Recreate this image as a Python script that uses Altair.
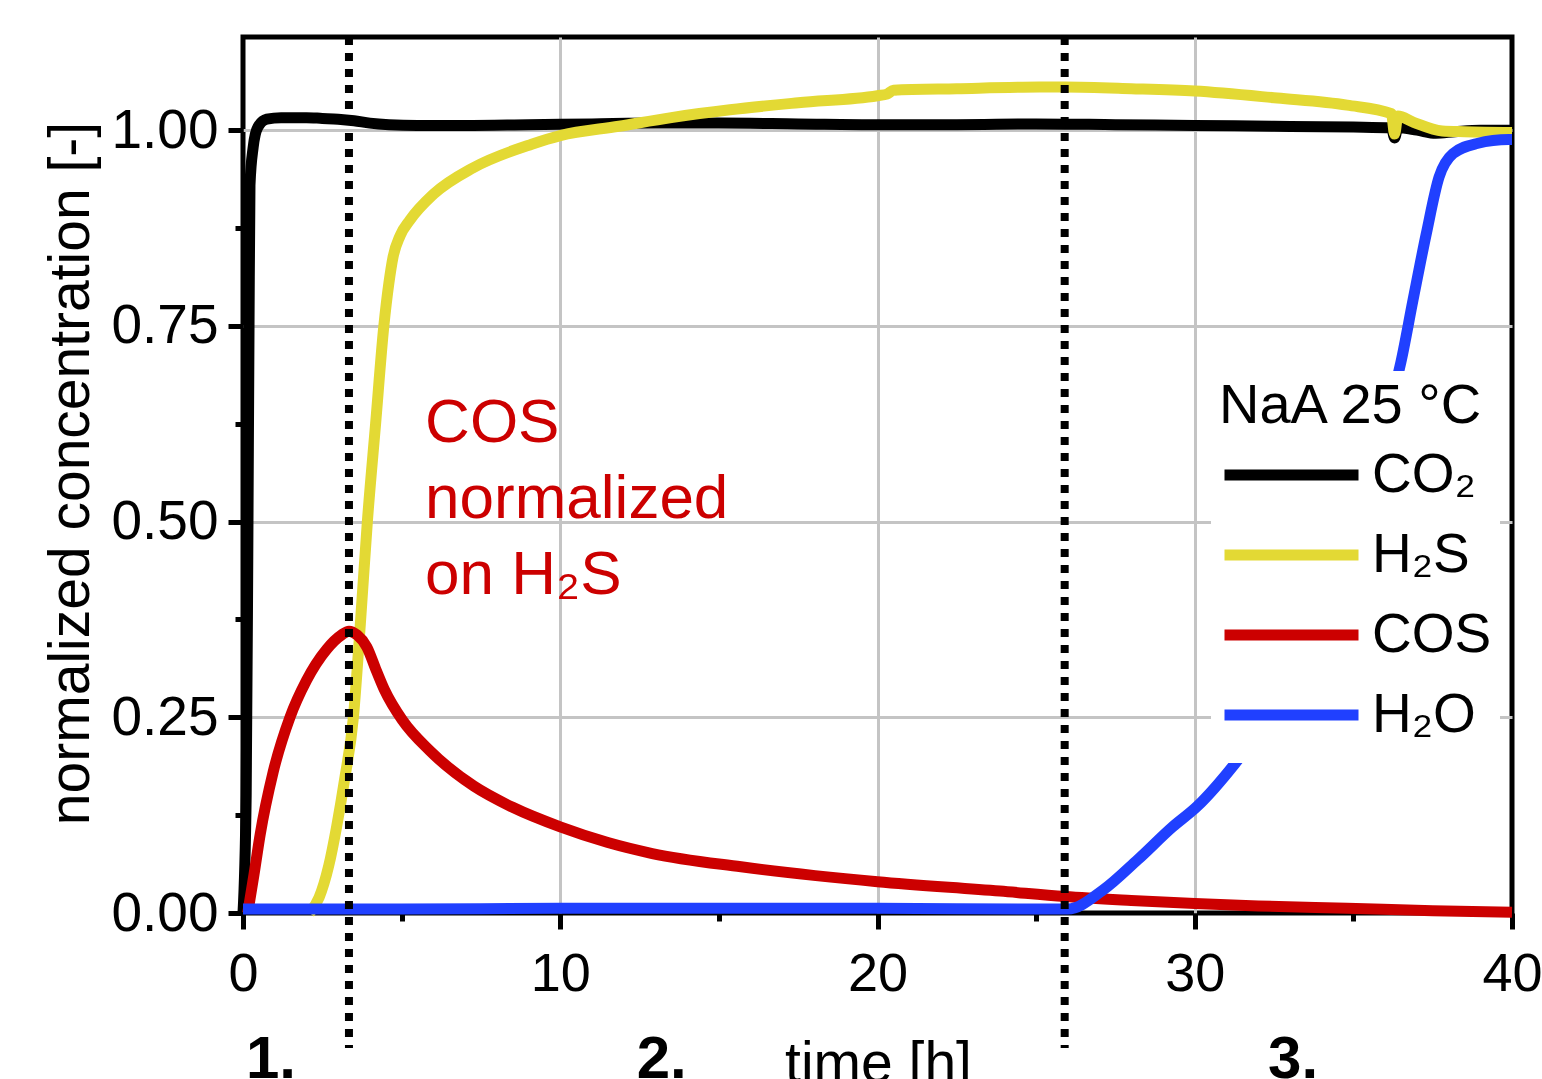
import altair as alt
import pandas as pd

# ---------------- data ----------------
species = ["CO₂", "H₂S", "COS", "H₂O"]
colors = ["#000000", "#e3d934", "#cc0000", "#2040ff"]

co2_t = [0, 0.1, 0.15, 0.19, 0.22, 0.32, 0.47, 0.75, 1.2, 2.0, 2.5, 3.0, 3.5, 4.0, 4.6, 5.5,
         7, 9, 11, 13, 15, 17.5, 20, 22.5, 25, 27.5, 30, 32.5, 35, 36.2, 36.3, 36.4, 37.0,
         37.6, 38.2, 39, 40]
co2_v = [0, 0.15, 0.45, 0.75, 0.93, 0.978, 1.004, 1.014, 1.016, 1.016, 1.015, 1.014, 1.012,
         1.009, 1.007, 1.006, 1.006, 1.007, 1.008, 1.009, 1.009, 1.008, 1.007, 1.007, 1.008,
         1.007, 1.006, 1.005, 1.004, 1.003, 0.99, 1.003, 1.0, 0.996, 0.998, 1.0, 1.0]

h2s_t = [2.1, 2.4, 2.7, 2.95, 3.2, 3.48, 3.7, 3.92, 4.18, 4.44, 4.6, 4.73, 4.95, 5.26, 6.0,
         7.26, 9.1, 10, 11.85, 13.5, 15.35, 17.5, 20, 20.3, 20.5, 22.5, 25.1, 25.9, 28, 30,
         32.6, 34.8, 36.2, 36.3, 36.4, 36.9, 37.8, 38.5, 40]
h2s_v = [0, 0.02, 0.06, 0.11, 0.17, 0.25, 0.37, 0.5, 0.625, 0.75, 0.805, 0.838, 0.865, 0.885,
         0.918, 0.952, 0.982, 0.993, 1.005, 1.016, 1.026, 1.035, 1.044, 1.046, 1.051, 1.053,
         1.055, 1.055, 1.053, 1.05, 1.041, 1.032, 1.021, 0.995, 1.018, 1.010, 0.999, 0.998,
         0.997]

cos_t = [0.15, 0.35, 0.54, 0.95, 1.48, 2.0, 2.64, 3.1, 3.34, 3.6, 3.9, 4.2, 4.46, 5.03, 5.87,
         7.28, 8.5, 10, 11.5, 12.9, 15.7, 20, 23.86, 25.9, 28, 30, 32, 34.8, 37.5, 40]
cos_v = [0, 0.05, 0.10, 0.18, 0.25, 0.297, 0.337, 0.355, 0.36, 0.355, 0.34, 0.31, 0.285, 0.246,
         0.208, 0.162, 0.135, 0.11, 0.09, 0.076, 0.059, 0.040, 0.028, 0.021, 0.016, 0.012,
         0.009, 0.006, 0.003, 0.001]

h2o_t = [0, 5, 10, 15, 20, 25, 26.0, 27.1, 28.2, 29.3, 30.07, 31.27, 32.5, 33.5, 34.5, 35.5,
         36.1, 36.5, 36.88, 37.3, 37.7, 38.14, 38.9, 39.9, 40]
h2o_v = [0.005, 0.005, 0.006, 0.006, 0.006, 0.005, 0.005, 0.029, 0.068, 0.11, 0.136, 0.191,
         0.26, 0.34, 0.44, 0.56, 0.64, 0.704, 0.783, 0.868, 0.94, 0.97, 0.983, 0.988, 0.988]

# phase boundaries (dotted lines) and phase labels
divider_t = [3.34, 25.9]
phase_labels = ["1.", "2.", "3."]
phase_t = [0.88, 13.2, 33.1]

# annotation
note_lines = ["COS", "normalized", "on H₂S"]
note_v = [0.6015, 0.5045, 0.4074]
note_t = 5.74

x_ticks = [0, 5, 10, 15, 20, 25, 30, 35, 40]
y_ticks = [0, 0.125, 0.25, 0.375, 0.5, 0.625, 0.75, 0.875, 1.0]

# ---------------- tables ----------------
rows = []
for name, ts, vs in zip(species, [co2_t, h2s_t, cos_t, h2o_t], [co2_v, h2s_v, cos_v, h2o_v]):
    for t, v in zip(ts, vs):
        rows.append({"t": t, "v": v, "gas": name})
df = pd.DataFrame(rows)

Y_TOP = 1.119
Y_RULE_BOTTOM = -0.1724
Y_PHASE = -0.2107

rules_df = pd.DataFrame({"t": divider_t, "v": [Y_TOP] * len(divider_t),
                         "v2": [Y_RULE_BOTTOM] * len(divider_t)})
phase_df = pd.DataFrame({"t": phase_t, "v": [Y_PHASE] * 3, "label": phase_labels})
note_df = pd.DataFrame({"t": [note_t] * 3, "v": note_v, "label": note_lines})

# ---------------- scales & axes ----------------
x_scale = alt.Scale(domain=[0, 40], nice=False, zero=False)
y_scale = alt.Scale(domain=[0, Y_TOP], nice=False, zero=False)

minor_x = "datum.value % 10 !== 0"
x_axis = alt.Axis(
    values=x_ticks, format="d",
    labelExpr=f"({minor_x}) ? '' : datum.label",
    domain=False,
    tickColor="black", tickWidth=5,
    tickSize={"condition": {"test": minor_x, "value": 8}, "value": 16},
    grid=True, gridColor="#c4c4c4", gridWidth=3,
    gridOpacity={"condition": {"test": f"({minor_x}) || datum.value === 0 || datum.value === 40",
                               "value": 0}, "value": 1},
    labelFontSize=54, labelColor="black", labelPadding=18,
    labelOverlap=False, labelFlush=False,
    title="time [h]", titleFontSize=57, titleFontWeight="normal", titleColor="black",
    titleX=635, titleY=168, titleBaseline="alphabetic", titleAlign="center",
)

minor_y = "abs(datum.value * 4 - round(datum.value * 4)) > 0.01"
y_axis = alt.Axis(
    values=y_ticks, format=".2f",
    labelExpr=f"({minor_y}) ? '' : datum.label",
    domain=False,
    tickColor="black", tickWidth=5,
    tickSize={"condition": {"test": minor_y, "value": 8}, "value": 15},
    grid=True, gridColor="#c4c4c4", gridWidth=3,
    gridOpacity={"condition": {"test": f"({minor_y}) || datum.value === 0", "value": 0},
                 "value": 1},
    labelFontSize=55, labelColor="black", labelPadding=10, labelOverlap=False,
    labelFlush=False,
    title="normalized concentration [-]", titleFontSize=57, titleFontWeight="normal",
    titleColor="black", titleAngle=270, titleX=-155, titleY=436,
    titleBaseline="alphabetic", titleAlign="center",
)

legend = alt.Legend(
    title="NaA 25 °C", orient="none", legendX=968, legendY=334, direction="vertical",
    symbolType="stroke", symbolSize=17956, symbolStrokeWidth=11,
    labelFontSize=55, labelColor="black", labelOffset=8, labelLimit=400,
    titleFontSize=56, titleFontWeight="normal", titleColor="black", titlePadding=0,
    titleLimit=500,
    fillColor="white", padding=8, clipHeight=80, rowPadding=0,
)

X = alt.X("t:Q", scale=x_scale, axis=x_axis)
Y = alt.Y("v:Q", scale=y_scale, axis=y_axis)

lines = alt.Chart(df).mark_line(strokeWidth=11, strokeJoin="round",
                                interpolate="monotone").encode(
    x=X, y=Y,
    color=alt.Color("gas:N", scale=alt.Scale(domain=species, range=colors), legend=legend),
)

note = alt.Chart(note_df).mark_text(
    color="#cc0000", fontSize=62, align="left", baseline="alphabetic"
).encode(x=X, y=Y, text="label:N")

rules = alt.Chart(rules_df).mark_rule(
    color="black", strokeWidth=8, strokeDash=[8, 8]
).encode(x=X, y=Y, y2="v2:Q")

phases = alt.Chart(phase_df).mark_text(
    color="black", fontSize=60, fontWeight="bold", align="center", baseline="alphabetic"
).encode(x=X, y=Y, text="label:N")

chart = alt.layer(lines, note, rules, phases).properties(
    width=1269, height=876,
    autosize=alt.AutoSizeParams(type="none"),
    padding={"left": 243, "top": 37, "right": 30, "bottom": 166},
).configure(font="Liberation Sans").configure_view(stroke="black", strokeWidth=5)

chart.save("out.html", embed_options={"renderer": "svg", "actions": False})
